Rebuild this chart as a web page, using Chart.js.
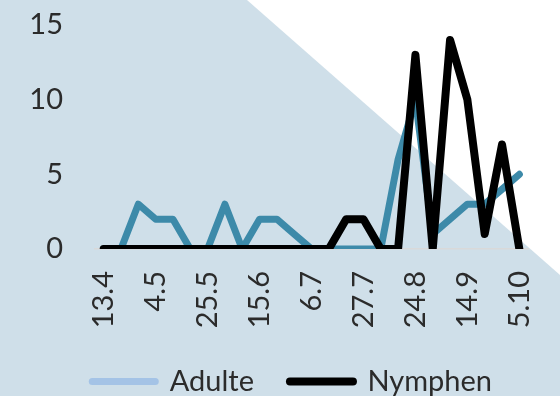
<!DOCTYPE html>
<html>
<head>
<meta charset="utf-8">
<script src="https://cdn.jsdelivr.net/npm/chart.js@4/dist/chart.umd.min.js"></script>
<style>
  html, body { margin: 0; padding: 0; background: #ffffff; }
  #c { display: block; }
</style>
</head>
<body>
<canvas id="c" width="560" height="396"></canvas>
<script>
// Weekly sampling dates (day.month); every third one is labelled on the axis
const dates = ['13.4','20.4','27.4','4.5','11.5','18.5','25.5','1.6','8.6','15.6','22.6','29.6',
               '6.7','13.7','20.7','27.7','3.8','10.8','24.8','31.8','7.9','14.9','21.9','28.9','5.10'];
const tickLabels = ['13.4','4.5','25.5','15.6','6.7','27.7','24.8','14.9','5.10'];
const adulte  = [0,0,3,2,2,0,0,3,0,2,2,1,0,0,0,0,0,6,10,1,2,3,3,4,5];
const nymphen = [0,0,0,0,0,0,0,0,0,0,0,0,0,0,2,2,0,0,13,0,14,10,1,7,0];
const yTicks = [0, 5, 10, 15];

const FONT = 'Lato, "Open Sans", sans-serif';
const TEXT = '#2b2b2b';
const legendColors = ['#a4c3e6', '#000000'];
const legendWidths = [7, 8];

// Light blue page with a white triangle cut from the top-right corner
const backdrop = {
  id: 'backdrop',
  beforeDraw(chart) {
    const { ctx, width, height } = chart;
    ctx.save();
    ctx.fillStyle = '#cfdfe9';
    ctx.fillRect(0, 0, width, height);
    ctx.fillStyle = '#ffffff';
    ctx.beginPath();
    ctx.moveTo(247, 0);
    ctx.lineTo(width, 0);
    ctx.lineTo(width, 275);
    ctx.closePath();
    ctx.fill();
    ctx.restore();
  }
};

new Chart(document.getElementById('c'), {
  type: 'line',
  data: {
    labels: dates,
    datasets: [
      {
        label: 'Adulte',
        data: adulte,
        borderColor: '#3d8aa9',
        borderWidth: 7,
        borderCapStyle: 'round',
        borderJoinStyle: 'round',
        pointRadius: 0,
        tension: 0,
        order: 1
      },
      {
        label: 'Nymphen',
        data: nymphen,
        borderColor: '#000000',
        borderWidth: 8,
        borderCapStyle: 'round',
        borderJoinStyle: 'round',
        pointRadius: 0,
        tension: 0,
        order: 0
      }
    ]
  },
  options: {
    responsive: false,
    animation: false,
    devicePixelRatio: 1,
    layout: { padding: { left: 0, right: 32, top: 25, bottom: -10 } },
    scales: {
      x: {
        offset: true,
        grid: { display: false, drawTicks: false },
        border: { display: true, color: '#d9d9d9', width: 1.5 },
        afterFit(scale) {
          scale.height = 82;
          scale.paddingLeft = 0;
          scale.paddingRight = 0;
        },
        ticks: {
          autoSkip: false,
          minRotation: 90,
          maxRotation: 90,
          padding: 22,
          color: TEXT,
          font: { family: FONT, size: 29 },
          callback: function (value) {
            const lbl = this.getLabelForValue(value);
            return tickLabels.includes(lbl) ? lbl : '';
          }
        }
      },
      y: {
        min: yTicks[0],
        max: yTicks[yTicks.length - 1],
        grid: { display: false, drawTicks: false },
        border: { display: false },
        afterFit(scale) {
          scale.width = 95;
          scale.paddingTop = 0;
          scale.paddingBottom = 0;
        },
        afterBuildTicks(scale) { scale.ticks = yTicks.map(v => ({ value: v })); },
        ticks: {
          padding: 32,
          color: TEXT,
          font: { family: FONT, size: 29 }
        }
      }
    },
    plugins: {
      tooltip: { enabled: false },
      legend: {
        position: 'bottom',
        align: 'end',
        labels: {
          usePointStyle: true,
          pointStyleWidth: 63,
          padding: 36,
          color: TEXT,
          font: { family: FONT, size: 29 },
          generateLabels: (chart) => chart.data.datasets.map((ds, i) => ({
            text: ds.label,
            fillStyle: legendColors[i],
            strokeStyle: legendColors[i],
            lineWidth: legendWidths[i],
            lineCap: 'round',
            pointStyle: 'line',
            fontColor: TEXT,
            hidden: false,
            datasetIndex: i
          }))
        }
      }
    }
  },
  plugins: [backdrop]
});
</script>
</body>
</html>
